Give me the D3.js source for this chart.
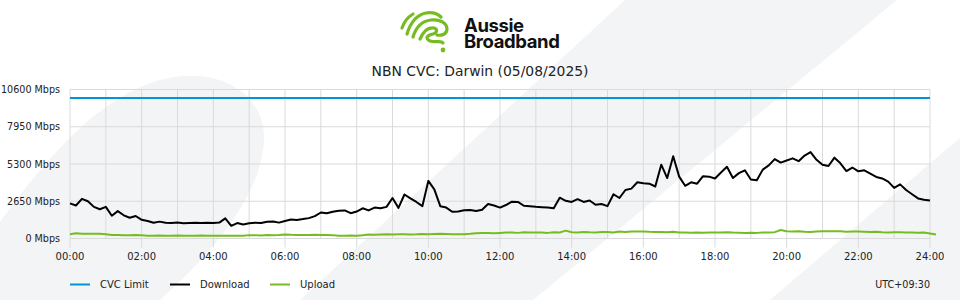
<!DOCTYPE html>
<html>
<head>
<meta charset="utf-8">
<script src="https://cdn.jsdelivr.net/npm/d3@7/dist/d3.min.js"></script>
<style>
  html, body { margin: 0; padding: 0; background: #ffffff; }
  #wrap { position: relative; width: 960px; height: 300px; }
  svg { display: block; font-family: "DejaVu Sans", sans-serif; }
  #brand { position: absolute; left: 464px; top: 17px; font-family: Inter, "Liberation Sans", sans-serif;
           font-weight: 700; font-size: 18.5px; line-height: 16px; letter-spacing: -0.4px; color: #111111;
           white-space: nowrap; }
</style>
</head>
<body>
<div id="wrap">
<svg id="chart" width="960" height="300"></svg>
<div id="brand"></div>
</div>
<script>
// ---- data ----
const title = "NBN CVC: Darwin (05/08/2025)";
const brandLines = ["Aussie", "Broadband"];
const timezoneLabel = "UTC+09:30";
const xTickLabels = ["00:00","02:00","04:00","06:00","08:00","10:00","12:00","14:00","16:00","18:00","20:00","22:00","24:00"];
const yTickValues = [0, 2650, 5300, 7950, 10600];
const yTickLabels = ["0 Mbps","2650 Mbps","5300 Mbps","7950 Mbps","10600 Mbps"];
const seriesNames = ["CVC Limit", "Download", "Upload"];
const cvcLimit = 10000;
// one value every 10 minutes, 00:00 .. 24:00
const download = [
  2500, 2350, 2820, 2650, 2250, 2080,
  2250, 1620, 1950, 1650, 1475, 1600,
  1330, 1250, 1120, 1200, 1120, 1100,
  1130, 1090, 1110, 1120, 1100, 1120,
  1110, 1130, 1430, 900, 1100, 1000,
  1080, 1120, 1100, 1190, 1210, 1130,
  1240, 1350, 1320, 1380, 1450, 1590,
  1850, 1790, 1900, 1980, 2000, 1800,
  1920, 2150, 2000, 2200, 2150, 2250,
  2880, 2180, 3130, 2850, 2600, 2300,
  4100, 3500, 2300, 2200, 1900, 1920,
  2010, 2020, 1950, 2050, 2450, 2350,
  2200, 2380, 2620, 2600, 2330, 2300,
  2260, 2230, 2200, 2150, 2900, 2680,
  2600, 2800, 2600, 2700, 2400, 2450,
  2300, 3150, 2880, 3450, 3550, 4000,
  3930, 3900, 3700, 5250, 4300, 5850,
  4400, 3750, 4000, 3900, 4430, 4400,
  4270, 4700, 5100, 4300, 4650, 4850,
  4200, 4150, 4900, 5200, 5650, 5400,
  5550, 5700, 5500, 5900, 6150, 5600,
  5250, 5160, 5750, 5350, 4800, 5050,
  4780, 4850, 4620, 4380, 4270, 4050,
  3600, 3850, 3450, 3150, 2850, 2750, 2700
];
const upload = [
  300, 380, 340, 330, 330, 330,
  300, 250, 250, 240, 240, 250,
  230, 200, 200, 210, 190, 200,
  210, 190, 200, 190, 210, 190,
  200, 190, 190, 200, 190, 200,
  240, 240, 220, 250, 240, 250,
  290, 260, 250, 250, 250, 260,
  250, 250, 240, 200, 200, 210,
  200, 230, 280, 260, 280, 300,
  290, 300, 310, 290, 300, 320,
  300, 320, 330, 320, 310, 300,
  310, 330, 380, 390, 400, 380,
  400, 420, 430, 400, 440, 420,
  430, 420, 400, 440, 430, 560,
  440, 430, 460, 440, 430, 470,
  460, 430, 500, 470, 500, 490,
  500, 480, 470, 460, 440, 480,
  420, 430, 410, 420, 410, 430,
  420, 420, 440, 420, 410, 400,
  410, 400, 430, 420, 450, 600,
  520, 500, 510, 480, 460, 500,
  520, 520, 520, 510, 480, 500,
  490, 480, 460, 480, 450, 430,
  440, 450, 420, 420, 410, 420, 360, 280
];

// ---- layout ----
const svg = d3.select("#chart");
const W = 960, H = 300;
const x = d3.scaleLinear().domain([0, 24]).range([70, 930]);
const y = d3.scaleLinear().domain([0, 10600]).range([238.5, 89.5]);
const colors = { cvc: "#0096d6", down: "#000000", up: "#76bc21" };
const bgShape = "#f3f4f6";

// background decoration
svg.append("rect").attr("width", W).attr("height", H).attr("fill", "#ffffff");
svg.append("path").attr("fill", bgShape)
  .attr("d", "M0,222 C35,175 90,100 160,80 C222,63 272,98 263,150 C256,200 215,250 160,300 L0,300 Z");
svg.append("path").attr("fill", bgShape)
  .attr("d", "M625,0 L897,0 L533,300 L300,300 Z");
svg.append("path").attr("fill", bgShape)
  .attr("d", "M960,138 L960,300 L770,300 Z");

// logo
const logo = svg.append("g").attr("fill", "none").attr("stroke", colors.up)
  .attr("stroke-width", 3.2).attr("stroke-linecap", "round").attr("stroke-linejoin", "round");
[
  "M402,28 C404,22 408,17 413,14",
  "M407,34 C410,24 416,15 426,13 C433,12 438,14 441,17",
  "M413,37 C416,27 422,21 431,20 C440,19 447,23 447,29 C447,34 442,36 437,35",
  "M420,39 C423,32 428,27 434,28 C438,29 437,33 433,34 C428,35 424,38 430,41 C436,43 441,40 443,43"
].forEach(d => logo.append("path").attr("d", d));
svg.append("circle").attr("cx", 443).attr("cy", 50).attr("r", 2.4).attr("fill", colors.up);
d3.select("#brand").html(brandLines.join("<br>"));

// title
svg.append("text").attr("x", 480).attr("y", 76).attr("text-anchor", "middle")
  .attr("font-size", 13.9).attr("fill", "#222222").text(title);

// grid
const grid = svg.append("g").attr("stroke", "#dadada").attr("stroke-width", 1);
d3.range(0, 25).forEach(h => {
  grid.append("line").attr("x1", x(h)).attr("x2", x(h))
    .attr("y1", y(10600)).attr("y2", h % 2 === 0 ? y(0) + 9 : y(0));
});
yTickValues.forEach(v => {
  grid.append("line").attr("x1", x(0)).attr("x2", x(24)).attr("y1", y(v)).attr("y2", y(v));
});

// axis labels
svg.append("g").selectAll("text").data(yTickValues).join("text")
  .attr("x", 60).attr("y", d => y(d) + 3.5).attr("text-anchor", "end")
  .attr("font-size", 9.6).attr("fill", "#222222")
  .text((d, i) => yTickLabels[i]);
svg.append("g").selectAll("text").data(xTickLabels).join("text")
  .attr("x", (d, i) => x(i * 2)).attr("y", 260).attr("text-anchor", "middle")
  .attr("font-size", 10).attr("fill", "#222222").text(d => d);

// series
const line = d3.line().x((d, i) => x(i / 6)).y(d => y(d));
svg.append("line").attr("x1", x(0)).attr("x2", x(24)).attr("y1", y(cvcLimit)).attr("y2", y(cvcLimit))
  .attr("stroke", colors.cvc).attr("stroke-width", 2);
svg.append("path").datum(upload).attr("d", line).attr("fill", "none")
  .attr("stroke", colors.up).attr("stroke-width", 2).attr("stroke-linejoin", "round");
svg.append("path").datum(download).attr("d", line).attr("fill", "none")
  .attr("stroke", colors.down).attr("stroke-width", 2).attr("stroke-linejoin", "round");

// legend
const legendColors = [colors.cvc, colors.down, colors.up];
const legend = svg.append("g");
seriesNames.forEach((name, i) => {
  const lx = 70 + i * 100;
  legend.append("line").attr("x1", lx).attr("x2", lx + 20).attr("y1", 284.5).attr("y2", 284.5)
    .attr("stroke", legendColors[i]).attr("stroke-width", 2);
  legend.append("text").attr("x", lx + 30).attr("y", 288).attr("font-size", 10)
    .attr("fill", "#222222").text(name);
});
svg.append("text").attr("x", 930).attr("y", 288).attr("text-anchor", "end")
  .attr("font-size", 9.6).attr("fill", "#222222").text(timezoneLabel);
</script>
</body>
</html>
